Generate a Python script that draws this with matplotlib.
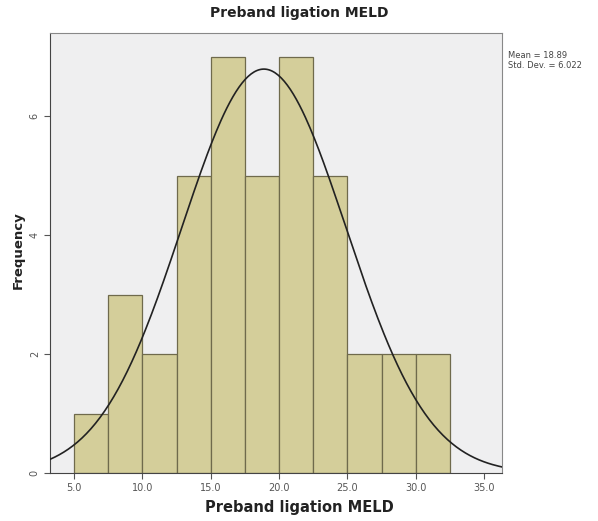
import numpy as np
import matplotlib
matplotlib.use("Agg")
import matplotlib.pyplot as plt

# bin edges (width 2.5) and counts
bin_edges = [5.0, 7.5, 10.0, 12.5, 15.0, 17.5, 20.0, 22.5, 25.0, 27.5, 30.0, 32.5]
counts = [1, 3, 2, 5, 7, 5, 7, 5, 2, 2, 2]
mean = 18.89
std = 6.022
x_ticks = [5.0, 10.0, 15.0, 20.0, 25.0, 30.0, 35.0]
y_ticks = [0, 2, 4, 6]

fig = plt.figure(figsize=(5.98, 5.21), dpi=100)
ax = fig.add_axes([0.084, 0.092, 0.755, 0.845])
ax.set_facecolor('#efeff0')

left = np.array(bin_edges[:-1])
widths = np.diff(bin_edges)
ax.bar(left, counts, width=widths, align='edge', color='#d4ce9a',
       edgecolor='#6f6a4c', linewidth=0.9, zorder=2)

# normal curve scaled to counts
xlo, xhi = 3.25, 36.3
xs = np.linspace(xlo, xhi, 300)
n = sum(counts)
bw = widths[0]
ys = n * bw / (std * np.sqrt(2 * np.pi)) * np.exp(-0.5 * ((xs - mean) / std) ** 2)
ax.plot(xs, ys, color='#222222', linewidth=1.2, zorder=3)

ax.set_xlim(xlo, xhi)
ax.set_ylim(0, 7.4)
ax.set_xticks(x_ticks)
ax.set_xticklabels(['%.1f' % t for t in x_ticks], fontsize=7, color='#555555')
ax.set_yticks(y_ticks)
ax.set_yticklabels([str(t) for t in y_ticks], fontsize=7, color='#555555',
                   rotation=90, va='center')
ax.tick_params(length=4, width=0.8, color='#555555')
for s in ax.spines.values():
    s.set_color('#888888')
ax.spines['left'].set_color('#444444')
ax.spines['bottom'].set_color('#444444')

fig.text(0.5, 0.976, 'Preband ligation MELD', ha='center', va='center',
         fontsize=10, fontweight='bold', color='#222222')
fig.text(0.5, 0.026, 'Preband ligation MELD', ha='center', va='center',
         fontsize=10.5, fontweight='bold', color='#222222')
fig.text(0.03, 0.52, 'Frequency', ha='center', va='center', rotation=90,
         fontsize=9.5, fontweight='bold', color='#222222')

fig.text(0.849, 0.902, 'Mean = %.2f\nStd. Dev. = %.3f' % (mean, std),
         ha='left', va='top', fontsize=6, color='#444444', linespacing=1.2)

fig.savefig('out.png', dpi=100)
